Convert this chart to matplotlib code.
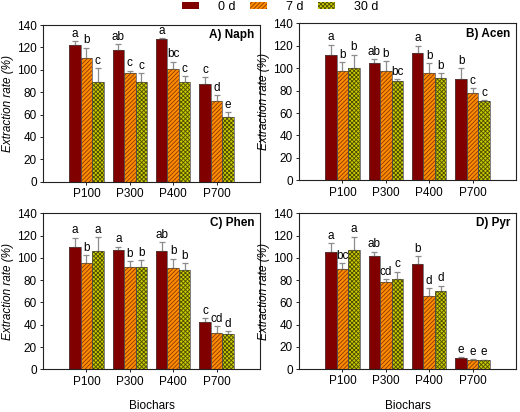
import matplotlib.pyplot as plt
import numpy as np
from matplotlib.patches import Patch

plt.rcParams['font.family'] = ['Liberation Sans', 'DejaVu Sans']
plt.rcParams['hatch.linewidth'] = 0.6

BASE_FONT = 8
FIGSIZE = (5.2, 4.12)

biochars = ['P100', 'P300', 'P400', 'P700']
series = ['0 d', '7 d', '30 d']

# mean values per panel: rows = 0 d, 7 d, 30 d; columns = biochars
naph_mean = [[121.8, 117.4, 127.5, 87.3], [110.2, 97.1, 100.7, 71.8], [88.8, 88.8, 89.4, 57.5]]
naph_err = [[4.0, 5.3, 0.8, 6.0], [9.5, 2.0, 6.5, 5.4], [12.5, 8.0, 5.0, 4.5]]
naph_letters = [['a', 'ab', 'a', 'c'], ['b', 'c', 'bc', 'd'], ['c', 'c', 'c', 'e']]

acen_mean = [[111.8, 104.6, 113.6, 90.7], [97.2, 97.5, 96.0, 77.6], [99.9, 88.9, 91.6, 70.7]]
acen_err = [[9.0, 3.3, 6.5, 9.0], [8.0, 8.6, 8.6, 4.5], [12.0, 1.2, 4.0, 1.0]]
acen_letters = [['a', 'ab', 'a', 'b'], ['b', 'b', 'b', 'c'], ['b', 'bc', 'b', 'c']]

phen_mean = [[110.0, 107.0, 106.0, 42.2], [95.5, 92.1, 90.6, 32.9], [106.5, 92.1, 89.2, 31.7]]
phen_err = [[8.0, 3.0, 8.0, 3.6], [7.0, 4.8, 8.7, 6.0], [12.0, 5.7, 6.0, 2.4]]
phen_letters = [['a', 'a', 'ab', 'c'], ['b', 'b', 'b', 'cd'], ['a', 'b', 'b', 'd']]

pyr_mean = [[105.0, 102.0, 94.5, 10.2], [90.0, 78.5, 66.0, 8.2], [107.0, 80.9, 70.0, 8.0]]
pyr_err = [[8.0, 3.6, 7.0, 0.6], [5.4, 2.4, 6.6, 0.6], [12.0, 6.6, 5.0, 0.3]]
pyr_letters = [['a', 'ab', 'b', 'e'], ['bc', 'cd', 'd', 'e'], ['a', 'c', 'd', 'e']]

panels = [
    ('A) Naph', naph_mean, naph_err, naph_letters, [43, 25, 260, 181.7], False),
    ('B) Acen', acen_mean, acen_err, acen_letters, [299, 23.3, 516, 180.3], False),
    ('C) Phen', phen_mean, phen_err, phen_letters, [43, 213.3, 260, 369.3], True),
    ('D) Pyr', pyr_mean, pyr_err, pyr_letters, [299, 213.3, 516, 369], True),
]

face_colors = ['#800000', '#ff8c00', '#cccc00']
hatch_colors = ['#6a0000', '#8a3800', '#4c4c00']
hatches = ['', '////////', 'xxxxxxxx']

W, H = 520, 412
fig = plt.figure(figsize=FIGSIZE, dpi=100)

x = np.arange(1, len(biochars) + 1)
w = 0.265

for title, mean, err, letters, (l, t, r, b), bottom_row in panels:
    ax = fig.add_axes([l / W, 1 - b / H, (r - l) / W, (b - t) / H])
    for i in range(len(series)):
        xi = x + (i - 1) * w
        vals = np.array(mean[i])
        e = np.array(err[i])
        ax.bar(xi, vals, w, color=face_colors[i], edgecolor=hatch_colors[i],
               hatch=hatches[i], linewidth=0, zorder=2)
        ax.bar(xi, vals, w, fill=False, edgecolor='#4a4a4a', linewidth=0.5, zorder=3)
        ax.errorbar(xi, vals, yerr=[np.zeros_like(e), e], fmt='none', ecolor='#8c8c8c',
                    elinewidth=0.9, capsize=2.5, capthick=0.9, zorder=1)
        for xx, v, ee, lab in zip(xi, vals, e, letters[i]):
            ax.text(xx, v + ee + 1.2, lab, ha='center', va='bottom', fontsize=BASE_FONT + 0.5)

    ax.set_xlim(0, 5)
    ax.set_ylim(0, 140)
    ax.set_yticks(np.arange(0, 141, 20))
    ax.set_xticks(x)
    ax.set_xticklabels(biochars)
    ax.tick_params(labelsize=BASE_FONT + 0.5, length=2.5, width=0.6, pad=2)
    for s in ax.spines.values():
        s.set_linewidth(0.8)
        s.set_color('#222222')
    ax.set_ylabel('Extraction rate (%)', fontsize=BASE_FONT + 0.5, style='italic', labelpad=2)
    ax.text(0.975, 0.935, title, transform=ax.transAxes, ha='right', va='center',
            fontsize=BASE_FONT + 0.5, fontweight='bold')
    if bottom_row:
        ax.set_xlabel('Biochars', fontsize=BASE_FONT + 0.5, labelpad=9)

handles = [Patch(facecolor=face_colors[i], edgecolor=hatch_colors[i], hatch=hatches[i],
                 linewidth=0) for i in range(len(series))]
fig.legend(handles, series, loc='center', bbox_to_anchor=(280 / W, 1 - 7 / H), ncol=3,
           frameon=False, fontsize=BASE_FONT + 1, handlelength=1.35, handleheight=0.45,
           handletextpad=1.5, columnspacing=1.2)

plt.savefig('out.png', dpi=100)
plt.close()
